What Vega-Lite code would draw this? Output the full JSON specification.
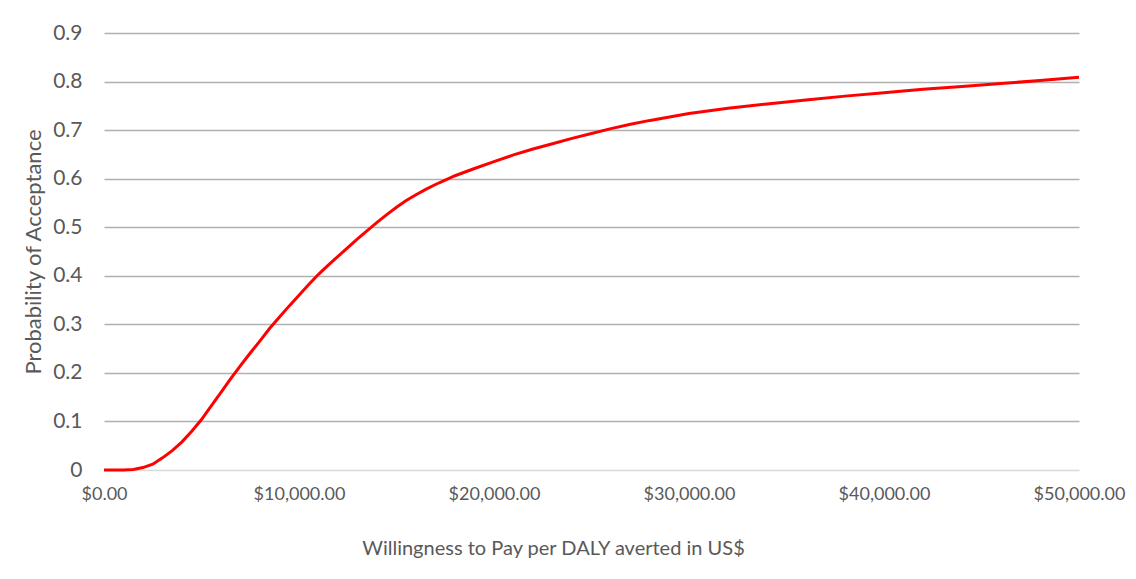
{
  "$schema": "https://vega.github.io/schema/vega-lite/v6.json",
  "autosize": "none",
  "width": 975,
  "height": 437,
  "padding": {"left": 104, "top": 33, "right": 57, "bottom": 109},
  "background": "white",
  "config": {
    "view": {"stroke": null},
    "font": "Lato",
    "axis": {"labelFont": "Lato", "titleFont": "Lato", "labelColor": "#595959", "titleColor": "#595959", "titleFontWeight": "normal"}
  },
  "data": {
    "values": [
      {"wtp": 0, "p": 0},
      {"wtp": 1000, "p": 0},
      {"wtp": 1500, "p": 0.001},
      {"wtp": 2000, "p": 0.005},
      {"wtp": 2500, "p": 0.012},
      {"wtp": 3000, "p": 0.025},
      {"wtp": 3500, "p": 0.04},
      {"wtp": 4000, "p": 0.058},
      {"wtp": 4500, "p": 0.08},
      {"wtp": 5000, "p": 0.104},
      {"wtp": 5500, "p": 0.132},
      {"wtp": 6000, "p": 0.16},
      {"wtp": 6500, "p": 0.188},
      {"wtp": 7000, "p": 0.215},
      {"wtp": 7500, "p": 0.241},
      {"wtp": 8000, "p": 0.266},
      {"wtp": 8500, "p": 0.292},
      {"wtp": 9000, "p": 0.315},
      {"wtp": 9500, "p": 0.338},
      {"wtp": 10000, "p": 0.36},
      {"wtp": 10500, "p": 0.382},
      {"wtp": 11000, "p": 0.403},
      {"wtp": 11500, "p": 0.422},
      {"wtp": 12000, "p": 0.44},
      {"wtp": 12500, "p": 0.458},
      {"wtp": 13000, "p": 0.476},
      {"wtp": 13500, "p": 0.493},
      {"wtp": 14000, "p": 0.51},
      {"wtp": 14500, "p": 0.526},
      {"wtp": 15000, "p": 0.541},
      {"wtp": 15500, "p": 0.555},
      {"wtp": 16000, "p": 0.567},
      {"wtp": 16500, "p": 0.578},
      {"wtp": 17000, "p": 0.588},
      {"wtp": 17500, "p": 0.597},
      {"wtp": 18000, "p": 0.606},
      {"wtp": 19000, "p": 0.621},
      {"wtp": 20000, "p": 0.635},
      {"wtp": 21000, "p": 0.649},
      {"wtp": 22000, "p": 0.661},
      {"wtp": 23000, "p": 0.672},
      {"wtp": 24000, "p": 0.683},
      {"wtp": 25000, "p": 0.693},
      {"wtp": 26000, "p": 0.703},
      {"wtp": 27000, "p": 0.712},
      {"wtp": 28000, "p": 0.72},
      {"wtp": 29000, "p": 0.727},
      {"wtp": 30000, "p": 0.734},
      {"wtp": 32000, "p": 0.745},
      {"wtp": 34000, "p": 0.754},
      {"wtp": 36000, "p": 0.762},
      {"wtp": 38000, "p": 0.77},
      {"wtp": 40000, "p": 0.777},
      {"wtp": 42000, "p": 0.784},
      {"wtp": 44000, "p": 0.79},
      {"wtp": 46000, "p": 0.796},
      {"wtp": 48000, "p": 0.802},
      {"wtp": 50000, "p": 0.809}
    ]
  },
  "mark": {"type": "line", "color": "#ff0000", "strokeWidth": 3, "interpolate": "linear"},
  "encoding": {
    "x": {
      "field": "wtp",
      "type": "quantitative",
      "scale": {"domain": [0, 50000], "nice": false, "zero": true},
      "axis": {
        "title": "Willingness  to Pay per DALY averted in US$",
        "values": [0, 10000, 20000, 30000, 40000, 50000],
        "format": "$,.2f",
        "grid": false,
        "domain": false,
        "ticks": false,
        "labelFontSize": 18,
        "labelPadding": 15,
        "labelFlush": false,
        "titleFontSize": 20,
        "titlePadding": 35,
        "titleX": 449
      }
    },
    "y": {
      "field": "p",
      "type": "quantitative",
      "scale": {"domain": [0, 0.9], "nice": false},
      "axis": {
        "title": "Probability  of Acceptance",
        "values": [0, 0.1, 0.2, 0.3, 0.4, 0.5, 0.6, 0.7, 0.8, 0.9],
        "format": ".1~f",
        "grid": true,
        "gridColor": {"condition": {"test": "datum.value === 0", "value": "#d9d9d9"}, "value": "#b0b0b0"},
        "gridWidth": 1.5,
        "domain": false,
        "ticks": false,
        "labelFontSize": 21,
        "labelPadding": 22,
        "titleFontSize": 22,
        "titlePadding": 7
      }
    }
  }
}
